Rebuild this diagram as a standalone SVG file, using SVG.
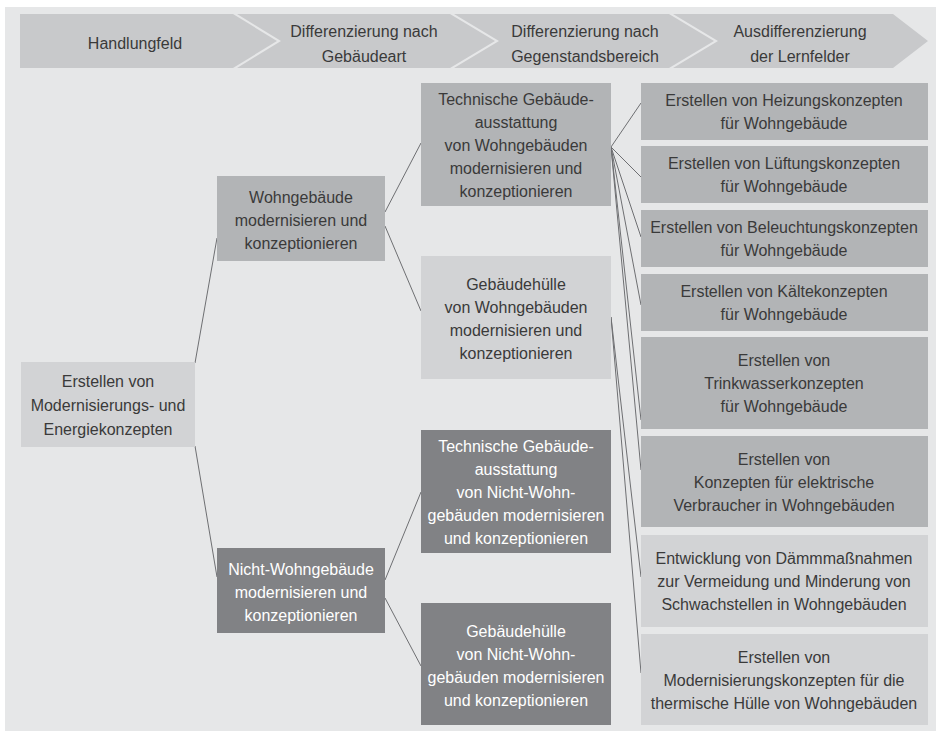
<svg xmlns="http://www.w3.org/2000/svg" width="936" height="736" viewBox="0 0 936 736">
  <style>
    text { font-family: "Liberation Sans", Arial, sans-serif; font-size: 16px; fill: #3a3a3a; text-anchor: middle; }
    .hdr { fill: #c8c9cb; }
    .light { fill: #d2d3d5; }
    .mid { fill: #b2b4b6; }
    .dark { fill: #818285; }
    .dark + text, text.inv { fill: #ffffff; }
    .conn line { stroke: #6e6f72; stroke-width: 1; fill: none; }
  </style>

  <!-- panel -->
  <rect x="0" y="0" width="936" height="736" fill="#ffffff"/>
  <rect x="5" y="7" width="931" height="724" fill="#e6e7e8"/>

  <!-- header chevrons -->
  <g id="header">
    <polygon class="hdr" points="20,14 233,14 277,41 233,68 20,68"/>
    <polygon class="hdr" points="237,14 450,14 495,41 450,68 237,68 281,41"/>
    <polygon class="hdr" points="454,14 669,14 714,41 669,68 454,68 499,41"/>
    <polygon class="hdr" points="673,14 893,14 928,41 893,68 673,68 718,41"/>
    <text x="135" y="49">Handlungfeld</text>
    <text x="364" y="37">Differenzierung nach</text>
    <text x="364" y="62">Gebäudeart</text>
    <text x="585" y="37">Differenzierung nach</text>
    <text x="585" y="62">Gegenstandsbereich</text>
    <text x="800" y="37">Ausdifferenzierung</text>
    <text x="800" y="62">der Lernfelder</text>
  </g>

  <!-- connectors -->
  <g id="connectors" class="conn">
    <line x1="195" y1="363" x2="217" y2="238"/>
    <line x1="195" y1="446" x2="217" y2="577"/>
    <line x1="385" y1="212" x2="421" y2="143"/>
    <line x1="385" y1="226" x2="421" y2="311"/>
    <line x1="385" y1="580" x2="421" y2="492"/>
    <line x1="385" y1="598" x2="421" y2="666"/>
    <line x1="611" y1="147" x2="641" y2="103"/>
    <line x1="611" y1="147" x2="641" y2="177"/>
    <line x1="611" y1="147" x2="641" y2="237"/>
    <line x1="611" y1="147" x2="641" y2="305"/>
    <line x1="611" y1="147" x2="641" y2="420"/>
    <line x1="611" y1="147" x2="641" y2="470"/>
    <line x1="611" y1="317" x2="641" y2="577"/>
    <line x1="611" y1="317" x2="641" y2="673"/>
  </g>

  <!-- level 1 -->
  <g id="n-root">
    <rect class="light" x="21" y="362" width="174" height="85"/>
    <text x="108" y="387">Erstellen von</text>
    <text x="108" y="411">Modernisierungs- und</text>
    <text x="108" y="435">Energiekonzepten</text>
  </g>

  <!-- level 2 -->
  <g id="n-wohn">
    <rect class="mid" x="217" y="176" width="168" height="85"/>
    <text x="301" y="203">Wohngebäude</text>
    <text x="301" y="226">modernisieren und</text>
    <text x="301" y="249">konzeptionieren</text>
  </g>
  <g id="n-nichtwohn">
    <rect class="dark" x="217" y="548" width="168" height="85"/>
    <text class="inv" x="301" y="575">Nicht-Wohngebäude</text>
    <text class="inv" x="301" y="598">modernisieren und</text>
    <text class="inv" x="301" y="621">konzeptionieren</text>
  </g>

  <!-- level 3 -->
  <g id="n-tech-wohn">
    <rect class="mid" x="421" y="83" width="190" height="123"/>
    <text x="516" y="105">Technische Gebäude-</text>
    <text x="516" y="128">ausstattung</text>
    <text x="516" y="151">von Wohngebäuden</text>
    <text x="516" y="174">modernisieren und</text>
    <text x="516" y="197">konzeptionieren</text>
  </g>
  <g id="n-huelle-wohn">
    <rect class="light" x="421" y="256" width="190" height="123"/>
    <text x="516" y="290">Gebäudehülle</text>
    <text x="516" y="313">von Wohngebäuden</text>
    <text x="516" y="336">modernisieren und</text>
    <text x="516" y="359">konzeptionieren</text>
  </g>
  <g id="n-tech-nichtwohn">
    <rect class="dark" x="421" y="430" width="190" height="123"/>
    <text class="inv" x="516" y="452">Technische Gebäude-</text>
    <text class="inv" x="516" y="475">ausstattung</text>
    <text class="inv" x="516" y="498">von Nicht-Wohn-</text>
    <text class="inv" x="516" y="521">gebäuden modernisieren</text>
    <text class="inv" x="516" y="544">und konzeptionieren</text>
  </g>
  <g id="n-huelle-nichtwohn">
    <rect class="dark" x="421" y="603" width="190" height="122"/>
    <text class="inv" x="516" y="637">Gebäudehülle</text>
    <text class="inv" x="516" y="660">von Nicht-Wohn-</text>
    <text class="inv" x="516" y="683">gebäuden modernisieren</text>
    <text class="inv" x="516" y="706">und konzeptionieren</text>
  </g>

  <!-- level 4 -->
  <g id="n-heizung">
    <rect class="mid" x="641" y="83" width="287" height="57"/>
    <text x="784" y="106">Erstellen von Heizungskonzepten</text>
    <text x="784" y="129">für Wohngebäude</text>
  </g>
  <g id="n-lueftung">
    <rect class="mid" x="641" y="146" width="287" height="57"/>
    <text x="784" y="169">Erstellen von Lüftungskonzepten</text>
    <text x="784" y="192">für Wohngebäude</text>
  </g>
  <g id="n-beleuchtung">
    <rect class="mid" x="641" y="210" width="287" height="57"/>
    <text x="784" y="233">Erstellen von Beleuchtungskonzepten</text>
    <text x="784" y="256">für Wohngebäude</text>
  </g>
  <g id="n-kaelte">
    <rect class="mid" x="641" y="274" width="287" height="57"/>
    <text x="784" y="297">Erstellen von Kältekonzepten</text>
    <text x="784" y="320">für Wohngebäude</text>
  </g>
  <g id="n-trinkwasser">
    <rect class="mid" x="641" y="337" width="287" height="92"/>
    <text x="784" y="366">Erstellen von</text>
    <text x="784" y="389">Trinkwasserkonzepten</text>
    <text x="784" y="412">für Wohngebäude</text>
  </g>
  <g id="n-elektrisch">
    <rect class="mid" x="641" y="436" width="287" height="91"/>
    <text x="784" y="465">Erstellen von</text>
    <text x="784" y="488">Konzepten für elektrische</text>
    <text x="784" y="511">Verbraucher in Wohngebäuden</text>
  </g>
  <g id="n-daemmung">
    <rect class="light" x="641" y="535" width="287" height="92"/>
    <text x="784" y="564">Entwicklung von Dämmmaßnahmen</text>
    <text x="784" y="587">zur Vermeidung und Minderung von</text>
    <text x="784" y="610">Schwachstellen in Wohngebäuden</text>
  </g>
  <g id="n-huelle-thermisch">
    <rect class="light" x="641" y="634" width="287" height="91"/>
    <text x="784" y="663">Erstellen von</text>
    <text x="784" y="686">Modernisierungskonzepten für die</text>
    <text x="784" y="709">thermische Hülle von Wohngebäuden</text>
  </g>
</svg>
